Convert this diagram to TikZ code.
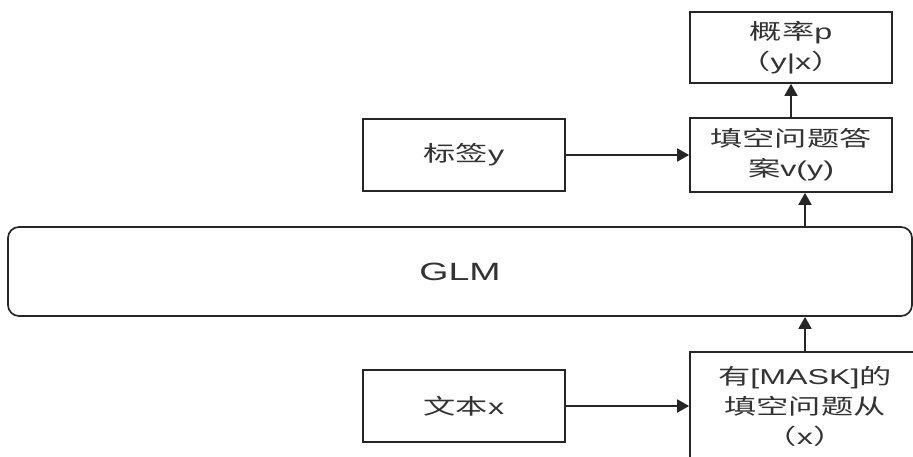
\documentclass[tikz,border=0pt]{standalone}
\usepackage{fontspec}
\setmainfont[FakeStretch=1.5]{Liberation Sans}
\newfontfamily\cjk[FakeStretch=1.5]{Noto Sans CJK SC}
\usetikzlibrary{arrows.meta}
\definecolor{txt}{HTML}{333333}
\tikzset{
  box/.style={draw=black!85, line width=1.7pt, fill=white, text=txt, align=center,
    inner sep=0pt, font=\fontsize{21.5}{30}\selectfont},
  link/.style={draw=black!85, line width=1.7pt, -{Triangle[width=13pt,length=12pt]}}
}
\begin{document}
\begin{tikzpicture}[x=1pt,y=-1pt]
\useasboundingbox (0,0) rectangle (913,457);
\clip (0,0) rectangle (913,457);
\fill[white] (0,0) rectangle (913,457);
\node[box, minimum width=202pt, minimum height=71pt] (prob) at (791,47.5) {{\cjk 概率}p\\{\cjk （}y|x{\cjk ）}};
\node[box, minimum width=202pt, minimum height=74pt] (ans) at (791,155) {{\cjk 填空问题答}\\{\cjk 案}v(y)};
\node[box, minimum width=202pt, minimum height=72pt] (label) at (464,155) {{\cjk 标签}y};
\node[box, rounded corners=11pt, minimum width=904pt, minimum height=89pt, font=\fontsize{25}{30}\selectfont] (glm) at (460,271.5) {GLM};
\node[box, minimum width=202pt, minimum height=72pt] (text) at (464,406) {{\cjk 文本}x};
\node[box, minimum width=230pt, minimum height=108pt] (mask) at (805,406) {{\cjk 有}[MASK]{\cjk 的}\\{\cjk 填空问题从}\\{\cjk （}x{\cjk ）}};
\draw[link] (ans.north) -- (prob.south);
\draw[link] (glm.north -| mask.north) -- (ans.south -| mask.north);
\draw[link] (mask.north) -- (glm.south -| mask.north);
\draw[link] (label.east) -- (ans.west);
\draw[link] (text.east) -- (mask.west |- text.east);
\end{tikzpicture}
\end{document}
